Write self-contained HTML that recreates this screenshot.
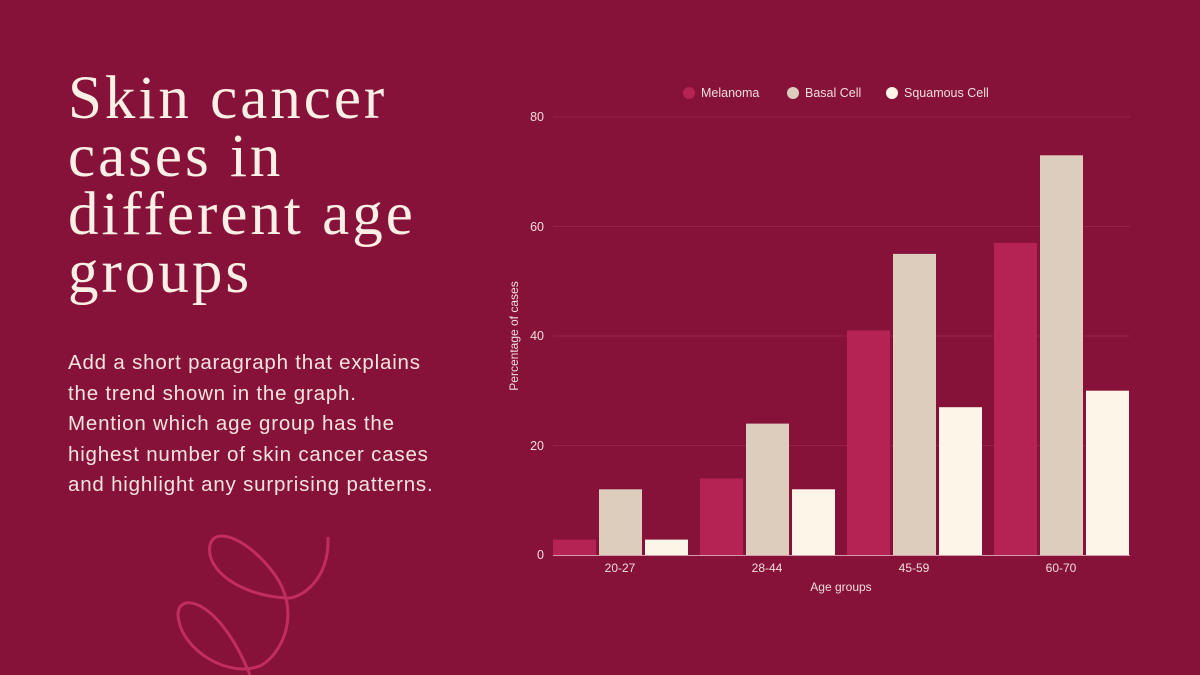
<!DOCTYPE html><html><head><style>
body{margin:0;width:1200px;height:675px;background:#86123A;overflow:hidden;position:relative;font-family:"Liberation Sans",sans-serif}
h1{position:absolute;left:68px;top:70px;margin:0;font-family:"Liberation Serif",serif;font-weight:normal;font-size:61px;line-height:58px;color:#FCEFE6;letter-spacing:3px}
p{position:absolute;left:68px;top:348px;margin:0;font-size:20.5px;line-height:30.6px;color:#F6E4E0;white-space:nowrap;letter-spacing:0.8px}
</style></head><body>
<h1>Skin cancer<br>cases in<br>different age<br>groups</h1>
<p>Add a short paragraph that explains<br>the trend shown in the graph.<br>Mention which age group has the<br>highest number of skin cancer cases<br>and highlight any surprising patterns.</p>
<svg width="1200" height="675" style="position:absolute;left:0;top:0">
<path d="M328,537 C330,580 300,600 285,598 C240,595 205,570 210,545 C215,525 250,540 275,575 C300,610 285,650 262,665 C230,680 180,650 178,615 C178,590 220,600 250,675" fill="none" stroke="#C12D5E" stroke-width="3"/>
<g stroke="#9A2048" stroke-width="1">
<line x1="553" x2="1130" y1="117" y2="117"/><line x1="553" x2="1130" y1="226.5" y2="226.5"/><line x1="553" x2="1130" y1="336" y2="336"/><line x1="553" x2="1130" y1="445.5" y2="445.5"/>
</g>
<line x1="553" x2="1130" y1="555.5" y2="555.5" stroke="#D89AAA" stroke-width="1"/>
<g font-size="12.5" fill="#F3DCDC" text-anchor="end">
<text x="544" y="121">80</text><text x="544" y="231">60</text><text x="544" y="340">40</text><text x="544" y="450">20</text><text x="544" y="559">0</text>
</g>
<g font-size="12" fill="#F3DCDC" text-anchor="middle">
<text x="620" y="572">20-27</text><text x="767" y="572">28-44</text><text x="914" y="572">45-59</text><text x="1061" y="572">60-70</text>
<text x="841" y="591">Age groups</text>
<text transform="translate(518,336) rotate(-90)">Percentage of cases</text>
</g>
<g font-size="12.5" fill="#F3DCDC">
<circle cx="689" cy="93" r="6" fill="#B52254"/><text x="701" y="97">Melanoma</text>
<circle cx="793" cy="93" r="6" fill="#DDCDBD"/><text x="805" y="97">Basal Cell</text>
<circle cx="892" cy="93" r="6" fill="#FDF6E8"/><text x="904" y="97">Squamous Cell</text>
</g>
<g>
<rect x="553" y="539.6" width="43" height="15.4" fill="#B52254"/>
<rect x="599" y="489.3" width="43" height="65.7" fill="#DDCDBD"/>
<rect x="645" y="539.6" width="43" height="15.4" fill="#FDF6E8"/>
<rect x="700" y="478.4" width="43" height="76.6" fill="#B52254"/>
<rect x="746" y="423.6" width="43" height="131.4" fill="#DDCDBD"/>
<rect x="792" y="489.3" width="43" height="65.7" fill="#FDF6E8"/>
<rect x="847" y="330.5" width="43" height="224.5" fill="#B52254"/>
<rect x="893" y="253.9" width="43" height="301.1" fill="#DDCDBD"/>
<rect x="939" y="407.2" width="43" height="147.8" fill="#FDF6E8"/>
<rect x="994" y="242.9" width="43" height="312.1" fill="#B52254"/>
<rect x="1040" y="155.3" width="43" height="399.7" fill="#DDCDBD"/>
<rect x="1086" y="390.7" width="43" height="164.3" fill="#FDF6E8"/>
</g>
</svg>
</body></html>
